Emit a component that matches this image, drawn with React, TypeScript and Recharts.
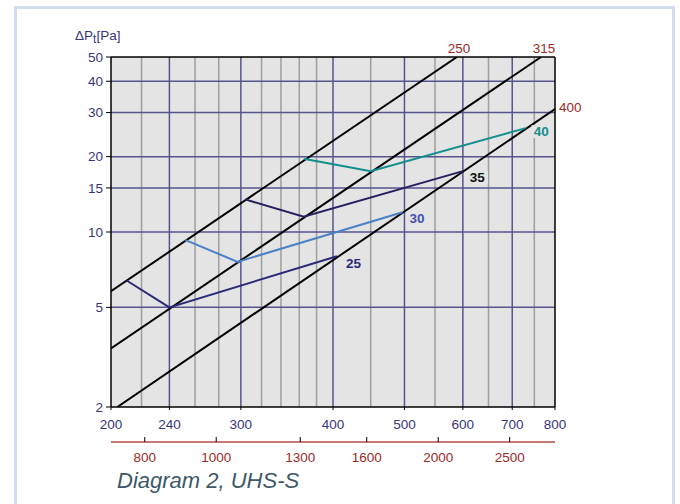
import {
  ComposedChart,
  Line,
  XAxis,
  YAxis,
  CartesianGrid,
  ReferenceLine,
  ReferenceDot,
} from "recharts";

type Pt = { x: number; y: number };

// airflow q [l/s], log axis
const xDomain = [200, 800];
const xTicks = [200, 240, 300, 400, 500, 600, 700, 800];
const xMajorGrid = [240, 300, 400, 500, 600, 700];
const xMinorGrid = [220, 260, 280, 320, 340, 360, 380, 450, 550, 650, 750];

// same airflow in m3/h
const flowTicks = [800, 1000, 1300, 1600, 2000, 2500];
const flowDomain = xDomain.map((v) => v * 3.6);

// pressure drop [Pa], log axis
const yDomain = [2, 50];
const yTicks = [2, 5, 10, 15, 20, 30, 40, 50];
const yGrid = [5, 10, 15, 20, 30, 40];

// duct size lines
const duct250: Pt[] = [
  { x: 200, y: 5.8 },
  { x: 589, y: 50 },
];
const duct315: Pt[] = [
  { x: 200, y: 3.43 },
  { x: 766, y: 50 },
];
const duct400: Pt[] = [
  { x: 204, y: 2 },
  { x: 800, y: 31 },
];

// sound level curves
const level25: Pt[] = [
  { x: 210, y: 6.4 },
  { x: 240, y: 5 },
  { x: 405, y: 8 },
];
const level30: Pt[] = [
  { x: 252, y: 9.3 },
  { x: 297, y: 7.6 },
  { x: 497, y: 12 },
];
const level35: Pt[] = [
  { x: 304, y: 13.5 },
  { x: 365, y: 11.5 },
  { x: 600, y: 17.5 },
];
const level40: Pt[] = [
  { x: 365, y: 19.6 },
  { x: 450, y: 17.5 },
  { x: 730, y: 26 },
];

// binds the m3/h axis to the chart so it gets a scale
const flowSpan: Pt[] = flowDomain.map((x) => ({ x, y: yDomain[0] }));

const FONT = "'Liberation Sans', Arial, sans-serif";
const PLOT_BG = "#e4e4e4";
const MAJOR = "#55558c";
const MINOR = "#9e9e9e";
const AXIS_TEXT = "#36367e";
const DUCT_TEXT = "#9c2a26";
const TICK_FS = 13.5;

function levelTag(text: string, color: string, dx: number, dy: number) {
  return (p: any) => (
    <g>
      <rect
        x={p.cx + dx - 2}
        y={p.cy + dy - 11}
        width={20}
        height={13}
        fill={PLOT_BG}
      />
      <text
        x={p.cx + dx}
        y={p.cy + dy}
        fill={color}
        fontSize={13.5}
        fontWeight="bold"
        fontFamily={FONT}
      >
        {text}
      </text>
    </g>
  );
}

function ductTag(text: string, dx: number, dy: number, anchor: string) {
  return (p: any) => (
    <text
      x={p.cx + dx}
      y={p.cy + dy}
      fill={DUCT_TEXT}
      fontSize={TICK_FS}
      fontFamily={FONT}
      textAnchor={anchor as any}
    >
      {text}
    </text>
  );
}

function FlowTick(props: any) {
  const { x, y, payload } = props;
  return (
    <g>
      <line x1={x} x2={x} y1={y - 5} y2={y} stroke="#000" strokeWidth={1} />
      <text
        x={x}
        y={y + 20}
        textAnchor="middle"
        fill={DUCT_TEXT}
        fontSize={TICK_FS}
        fontFamily={FONT}
      >
        {payload.value}
      </text>
    </g>
  );
}

export default function App() {
  return (
    <div
      style={{
        position: "absolute",
        left: 0,
        top: 0,
        width: 680,
        height: 504,
        overflow: "hidden",
        background: "#fff",
        fontFamily: FONT,
      }}
    >
      <div
        style={{
          position: "absolute",
          left: 14,
          top: 6,
          width: 655,
          height: 520,
          border: "3px solid #d3ddf2",
        }}
      />
      <div
        style={{
          position: "absolute",
          left: 75,
          top: 29,
          fontSize: 13.5,
          lineHeight: 1,
          color: AXIS_TEXT,
          whiteSpace: "nowrap",
        }}
      >
        ΔP
        <sub style={{ fontSize: 12, verticalAlign: -3 }}>t</sub>
        [Pa]
      </div>
      <div style={{ position: "absolute", left: 0, top: 0 }}>
        <ComposedChart
          width={680}
          height={504}
          margin={{ top: 57, right: 125, bottom: 32, left: 40 }}
        >
          <CartesianGrid
            horizontal={false}
            vertical={false}
            fill={PLOT_BG}
            fillOpacity={1}
          />
          <XAxis
            type="number"
            dataKey="x"
            scale="log"
            domain={xDomain}
            allowDataOverflow
            ticks={xTicks}
            height={35}
            tickSize={3}
            tickMargin={9}
            axisLine={{ stroke: "#000", strokeWidth: 1.5 }}
            tickLine={{ stroke: "#000" }}
            tick={{ fill: AXIS_TEXT, fontSize: TICK_FS, fontFamily: FONT }}
            interval={0}
          />
          <XAxis
            xAxisId="flow"
            type="number"
            dataKey="x"
            scale="log"
            domain={flowDomain}
            allowDataOverflow
            ticks={flowTicks}
            height={30}
            tickSize={0}
            tickMargin={0}
            axisLine={{ stroke: "#c47a76", strokeWidth: 2 }}
            tickLine={false}
            tick={<FlowTick />}
            interval={0}
          />
          <YAxis
            type="number"
            scale="log"
            domain={yDomain}
            allowDataOverflow
            ticks={yTicks}
            width={71}
            tickSize={5}
            tickMargin={3}
            axisLine={{ stroke: "#000", strokeWidth: 1.5 }}
            tickLine={{ stroke: "#000" }}
            tick={{ fill: AXIS_TEXT, fontSize: TICK_FS, fontFamily: FONT }}
            interval={0}
          />

          {xMinorGrid.map((v) => (
            <ReferenceLine key={`mx${v}`} x={v} stroke={MINOR} strokeWidth={1.5} />
          ))}
          {xMajorGrid.map((v) => (
            <ReferenceLine key={`Mx${v}`} x={v} stroke={MAJOR} strokeWidth={1.5} />
          ))}
          {yGrid.map((v) => (
            <ReferenceLine key={`My${v}`} y={v} stroke={MAJOR} strokeWidth={1.5} />
          ))}
          <ReferenceLine x={xDomain[1]} stroke="#000" strokeWidth={1.5} />
          <ReferenceLine y={yDomain[1]} stroke="#000" strokeWidth={1.5} />

          <Line
            xAxisId="flow"
            data={flowSpan}
            dataKey="y"
            stroke="none"
            dot={false}
            activeDot={false}
            legendType="none"
            isAnimationActive={false}
          />

          <Line data={duct250} dataKey="y" type="linear" stroke="#000" strokeWidth={2} dot={false} isAnimationActive={false} />
          <Line data={duct315} dataKey="y" type="linear" stroke="#000" strokeWidth={2} dot={false} isAnimationActive={false} />
          <Line data={duct400} dataKey="y" type="linear" stroke="#000" strokeWidth={2} dot={false} isAnimationActive={false} />

          <Line data={level25} dataKey="y" type="linear" stroke="#2b2a78" strokeWidth={2} dot={false} isAnimationActive={false} />
          <Line data={level30} dataKey="y" type="linear" stroke="#4a80c8" strokeWidth={2} dot={false} isAnimationActive={false} />
          <Line data={level35} dataKey="y" type="linear" stroke="#252060" strokeWidth={2} dot={false} isAnimationActive={false} />
          <Line data={level40} dataKey="y" type="linear" stroke="#138e8e" strokeWidth={2} dot={false} isAnimationActive={false} />

          <ReferenceDot x={duct250[1].x} y={duct250[1].y} ifOverflow="visible" shape={ductTag("250", 2, -4, "middle")} />
          <ReferenceDot x={duct315[1].x} y={duct315[1].y} ifOverflow="visible" shape={ductTag("315", 3, -4, "middle")} />
          <ReferenceDot x={duct400[1].x} y={duct400[1].y} ifOverflow="visible" shape={ductTag("400", 4, 3, "start")} />

          <ReferenceDot x={level25[2].x} y={level25[2].y} ifOverflow="visible" shape={levelTag("25", "#2b2a78", 9, 12)} />
          <ReferenceDot x={level30[2].x} y={level30[2].y} ifOverflow="visible" shape={levelTag("30", "#4650b0", 7, 11)} />
          <ReferenceDot x={level35[2].x} y={level35[2].y} ifOverflow="visible" shape={levelTag("35", "#111", 7, 11)} />
          <ReferenceDot x={level40[2].x} y={level40[2].y} ifOverflow="visible" shape={levelTag("40", "#138e8e", 8, 8)} />
        </ComposedChart>
      </div>
      <div
        style={{
          position: "absolute",
          left: 117,
          top: 470,
          fontSize: 22,
          lineHeight: 1,
          fontStyle: "italic",
          color: "#3d5869",
          whiteSpace: "nowrap",
        }}
      >
        Diagram 2, UHS-S
      </div>
    </div>
  );
}
